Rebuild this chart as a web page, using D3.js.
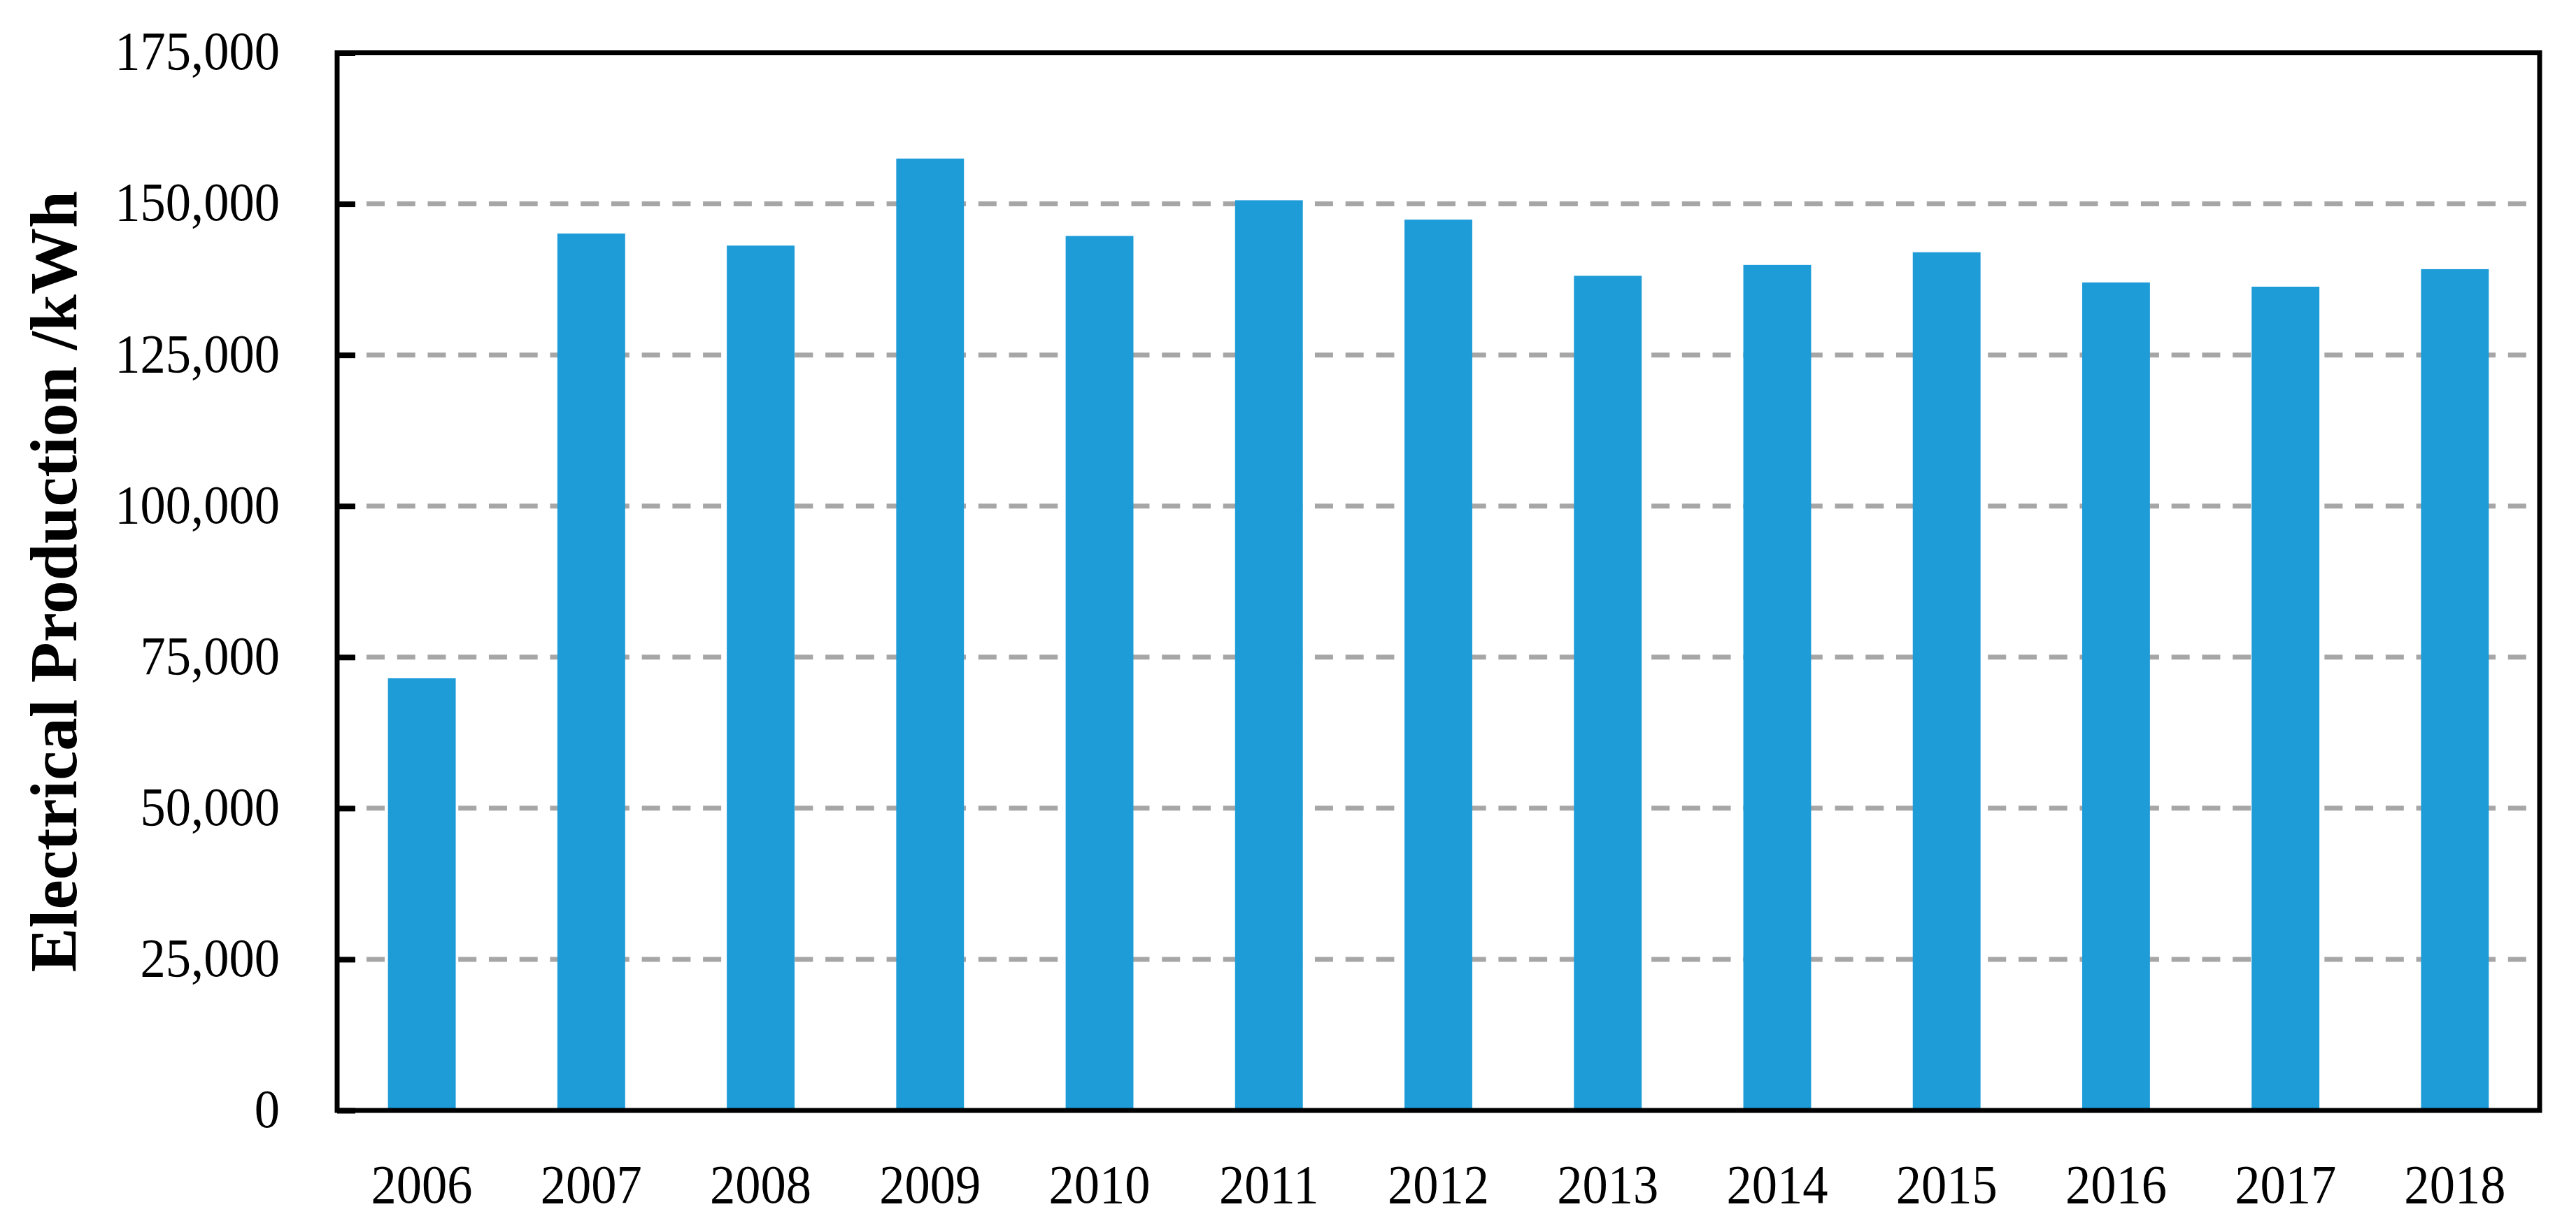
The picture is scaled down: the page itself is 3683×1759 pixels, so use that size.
<html><head>
<title>Electrical Production</title>
  <script src="https://d3js.org/d3.v7.min.js"></script>
  <style>
  body { margin: 0; background: #fff; }
  text { font-family: "Liberation Serif", "Times New Roman", serif; fill: #000; }
  line.grid {
    stroke: #a6a6a6;
    stroke-width: 7px;
    stroke-dasharray: 26 17.74;
    stroke-dashoffset: -42;
  }
  </style>
</head>
<body>
  <svg id="chart" width="3683" height="1759"></svg>

  <script>

  // values (kWh per year)
  const years = ["2006","2007","2008","2009","2010","2011","2012","2013","2014","2015","2016","2017","2018"];
  const production = [71500, 145100, 143100, 157500, 144700, 150600, 147400, 138100, 139900, 142000, 137000, 136300, 139200];
  const yTicks = [0, 25000, 50000, 75000, 100000, 125000, 150000, 175000];
  const yTitle = "Electrical Production /kWh";

  const svg = d3.select("#chart");
  const width = +svg.attr("width");
  const height = +svg.attr("height");
  const margin = {top: 75.5, right: 52, bottom: 171, left: 482};

  const layer = svg.append("g");

  const x = d3.scaleBand()
              .domain(years)
              .range([margin.left, width - margin.right])
              .paddingInner(0.6)
              .paddingOuter(0.3);

  const y = d3.scaleLinear()
              .domain([0, 175000])
              .range([height - margin.bottom, margin.top]);

  // dashed gridlines (not at 0 or at the top, the frame covers those)
  layer.selectAll("line.grid").data(yTicks.filter(d => d > 0 && d < 175000))
       .join("line")
       .attr("class","grid")
       .attr("x1", margin.left).attr("x2", width - margin.right - 3)
       .attr("y1", d => y(d)).attr("y2", d => y(d));

  // bars
  layer.selectAll("rect.bar").data(production)
       .join("rect")
       .attr("class","bar")
       .attr("fill","#1e9cd8")
       .attr("x", (d,i) => x(years[i]))
       .attr("width", x.bandwidth())
       .attr("y", d => y(d))
       .attr("height", d => y(0) - y(d));

  // y axis: ticks point inward, labels scaled a bit narrower like the original font
  const yAxis = d3.axisLeft(y)
                  .tickValues(yTicks)
                  .tickFormat(d3.format(","))
                  .tickSizeInner(-26)
                  .tickSizeOuter(0);

  const gy = layer.append("g")
                  .attr("transform", "translate(" + margin.left + ",0)")
                  .call(yAxis);
  gy.select(".domain").remove();
  gy.selectAll(".tick line").attr("stroke","#000").attr("stroke-width", 8);
  gy.selectAll(".tick text")
    .attr("x", -82 / 0.93)
    .attr("dy", "0.3em")
    .attr("transform", "scale(0.93,1)")
    .attr("text-anchor","end")
    .style("font-size","78px")
    .style("font-family",'"Liberation Serif", serif');

  // x axis: labels only
  const xAxis = d3.axisBottom(x).tickSize(0);
  const gx = layer.append("g")
                  .attr("transform", "translate(0," + y(0) + ")")
                  .call(xAxis);
  gx.select(".domain").remove();
  gx.selectAll(".tick text")
    .attr("y", 132)
    .attr("dy", 0)
    .attr("transform", "scale(0.93,1)")
    .style("font-size","78px")
    .style("font-family",'"Liberation Serif", serif');

  // frame round the plot
  layer.append("rect")
       .attr("x", margin.left)
       .attr("y", margin.top)
       .attr("width", width - margin.left - margin.right)
       .attr("height", height - margin.top - margin.bottom)
       .attr("fill","none")
       .attr("stroke","#000")
       .attr("stroke-width", 7);

  // y axis title
  layer.append("text")
       .attr("transform", "translate(109," + ((margin.top + height - margin.bottom) / 2) + ") rotate(-90)")
       .attr("text-anchor","middle")
       .style("font-size","95px")
       .style("font-weight","bold")
       .text(yTitle);

  </script>
</body>
</html>
